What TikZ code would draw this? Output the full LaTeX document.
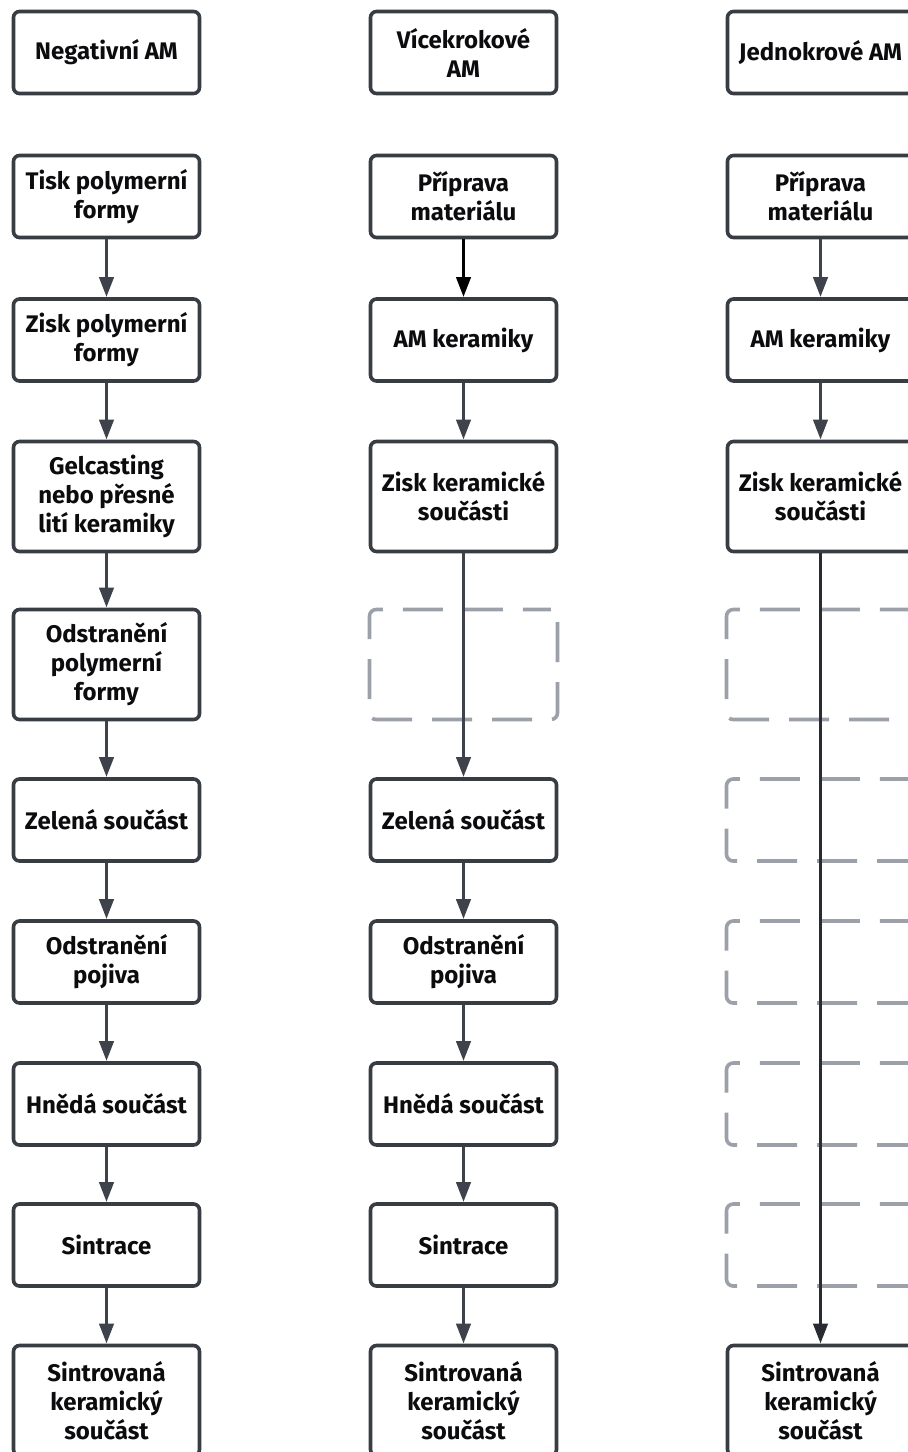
\documentclass[tikz,border=0pt]{standalone}
\usepackage{fontspec}
\setmainfont{Fira Sans}
\usetikzlibrary{arrows.meta}
\definecolor{boxcol}{RGB}{56,61,68}
\definecolor{arrcol}{RGB}{62,67,75}
\definecolor{longcol}{RGB}{40,44,50}
\definecolor{dashcol}{RGB}{156,160,168}
\definecolor{txtcol}{RGB}{12,12,14}
\tikzset{
  stepbox/.style={draw=boxcol, line width=2.7pt, rounded corners=4.5pt, fill=white,
    minimum width=139.5pt, minimum height=61.5pt, inner sep=0pt, align=center,
    text=txtcol, font=\bfseries\fontsize{18pt}{21.75pt}\selectfont},
  tallbox/.style={stepbox, minimum height=82.5pt},
  ghost/.style={draw=dashcol, line width=2.7pt, rounded corners=5pt,
    dash pattern=on 30pt off 15pt, dash phase=9pt,
    minimum width=141pt, minimum height=82.5pt, inner sep=0pt},
  ghostsmall/.style={ghost, minimum height=61.5pt},
  arr/.style={draw=arrcol, line width=2.9pt, -{Triangle[length=15pt,width=10.5pt]}},
  arrblack/.style={arr, draw=black},
  arrlong/.style={arr, draw=longcol},
}
\begin{document}
\begin{tikzpicture}[x=0.75pt,y=-0.75pt]
\useasboundingbox[fill=white] (0,0) rectangle (907,1452);
% column 1
\node[stepbox] (n0) at (106.5,52.5) {Negativní AM};
\node[stepbox] (n1) at (106.5,196.5) {Tisk polymerní\\formy};
\node[stepbox] (n2) at (106.5,340) {Zisk polymerní\\formy};
\node[tallbox] (n3) at (106.5,496.5) {Gelcasting\\nebo přesné\\lití keramiky};
\node[tallbox] (n4) at (106.5,664.5) {Odstranění\\polymerní\\formy};
\node[stepbox] (n5) at (106.5,820) {Zelená součást};
\node[stepbox] (n6) at (106.5,962) {Odstranění\\pojiva};
\node[stepbox] (n7) at (106.5,1104) {Hnědá součást};
\node[stepbox] (n8) at (106.5,1245) {Sintrace};
\node[tallbox] (n9) at (106.5,1400.5) {Sintrovaná\\keramický\\součást};
% column 2
\node[stepbox] (m0) at (463.5,52.5) {Vícekrokové\\AM};
\node[stepbox] (m1) at (463.5,196.5) {Příprava\\materiálu};
\node[stepbox] (m2) at (463.5,340) {AM keramiky};
\node[tallbox] (m3) at (463.5,496.5) {Zisk keramické\\součásti};
\node[ghost] (md4) at (463.5,664.5) {};
\node[stepbox] (m5) at (463.5,820) {Zelená součást};
\node[stepbox] (m6) at (463.5,962) {Odstranění\\pojiva};
\node[stepbox] (m7) at (463.5,1104) {Hnědá součást};
\node[stepbox] (m8) at (463.5,1245) {Sintrace};
\node[tallbox] (m9) at (463.5,1400.5) {Sintrovaná\\keramický\\součást};
% column 3
\node[stepbox] (j0) at (820.5,52.5) {Jednokrové AM};
\node[stepbox] (j1) at (820.5,196.5) {Příprava\\materiálu};
\node[stepbox] (j2) at (820.5,340) {AM keramiky};
\node[tallbox] (j3) at (820.5,496.5) {Zisk keramické\\součásti};
\node[ghost] (jd4) at (820.5,664.5) {};
\node[ghostsmall] (jd5) at (820.5,820) {};
\node[ghostsmall] (jd6) at (820.5,962) {};
\node[ghostsmall] (jd7) at (820.5,1104) {};
\node[ghostsmall] (jd8) at (820.5,1245) {};
\node[tallbox] (j9) at (820.5,1400.5) {Sintrovaná\\keramický\\součást};
% arrows column 1
\draw[arr] (n1) -- (n2);
\draw[arr] (n2) -- (n3);
\draw[arr] (n3) -- (n4);
\draw[arr] (n4) -- (n5);
\draw[arr] (n5) -- (n6);
\draw[arr] (n6) -- (n7);
\draw[arr] (n7) -- (n8);
\draw[arr] (n8) -- (n9);
% arrows column 2
\draw[arrblack] (m1) -- (m2);
\draw[arr] (m2) -- (m3);
\draw[arr] (m3) -- (m5);
\draw[arr] (m5) -- (m6);
\draw[arr] (m6) -- (m7);
\draw[arr] (m7) -- (m8);
\draw[arr] (m8) -- (m9);
% arrows column 3
\draw[arr] (j1) -- (j2);
\draw[arr] (j2) -- (j3);
\draw[arrlong] (j3) -- (j9);
\end{tikzpicture}
\end{document}
